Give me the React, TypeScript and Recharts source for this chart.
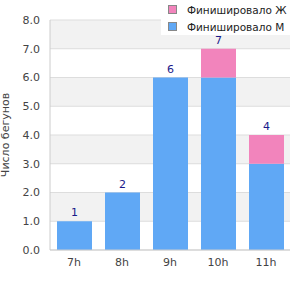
import { Bar, BarChart, CartesianGrid, Label, LabelList, XAxis, YAxis } from "recharts";

const hours = ["7h", "8h", "9h", "10h", "11h"];
const finishedM = [1, 2, 6, 6, 3];
const finishedF = [0, 0, 0, 1, 1];
const yTicks = [0, 1, 2, 3, 4, 5, 6, 7, 8];

const data = hours.map((h, i) => ({
  name: h,
  m: finishedM[i],
  f: finishedF[i],
  total: finishedM[i] + finishedF[i],
}));

const BLUE = "#60a8f5";
const PINK = "#f284bc";
const FONT = "'DejaVu Sans', sans-serif";

const LegendBox = () => (
  <div
    style={{
      position: "absolute",
      top: 0,
      right: 0,
      background: "#fff",
      width: 139,
      height: 35,
      fontFamily: FONT,
      fontSize: 10.5,
      color: "#222",
    }}
  >
    {[
      { color: PINK, text: "Финишировало Ж" },
      { color: BLUE, text: "Финишировало М" },
    ].map((it) => (
      <div key={it.text} style={{ display: "flex", alignItems: "center", height: 15, paddingLeft: 7, paddingTop: 2 }}>
        <span
          style={{
            display: "inline-block",
            width: 7,
            height: 7,
            background: it.color,
            border: "1px solid #888",
            marginRight: 10,
          }}
        />
        {it.text}
      </div>
    ))}
  </div>
);

// total label sits on top of the whole stack (m bar + f bar above it)
const TotalLabel = (props: any) => {
  const { x, y, width, height, index } = props;
  const d = data[index];
  const top = y - (d.f / d.m) * height;
  return (
    <text
      x={x + width / 2}
      y={top - 5}
      textAnchor="middle"
      fill="#1a1a8a"
      fontSize={11}
      fontFamily={FONT}
    >
      {d.total}
    </text>
  );
};

export default function App() {
  return (
    <div style={{ position: "absolute", left: 0, top: 0, width: 300, height: 300, background: "#fff" }}>
      <BarChart width={300} height={300} data={data} margin={{ top: 20, right: 10, left: 0, bottom: 20 }}>
        <CartesianGrid vertical={false} stroke="#dddddd" horizontalFill={["#f2f2f2", "#ffffff"]} />
        <XAxis
          dataKey="name"
          stroke="#cccccc"
          tickLine={false}
          tickSize={0}
          tickMargin={8}
          tick={{ fill: "#444", fontSize: 11, fontFamily: FONT }}
        />
        <YAxis
          domain={[0, 8]}
          ticks={yTicks}
          width={50}
          stroke="#cccccc"
          tickLine={false}
          tickSize={0}
          tickMargin={10}
          tickFormatter={(v: number) => v.toFixed(1)}
          tick={{ fill: "#444", fontSize: 11, fontFamily: FONT }}
        >
          <Label
            value="Число бегунов"
            angle={-90}
            position="insideLeft"
            offset={5}
            style={{ textAnchor: "middle", fill: "#444", fontSize: 11, fontFamily: FONT }}
          />
        </YAxis>
        <YAxis yAxisId="r" orientation="right" width={0} stroke="#cccccc" tick={false} tickLine={false} />
        <Bar dataKey="m" stackId="a" fill={BLUE} barSize={35} isAnimationActive={false}>
          <LabelList dataKey="total" content={TotalLabel} />
        </Bar>
        <Bar dataKey="f" stackId="a" fill={PINK} barSize={35} isAnimationActive={false} />
      </BarChart>
      <LegendBox />
    </div>
  );
}
